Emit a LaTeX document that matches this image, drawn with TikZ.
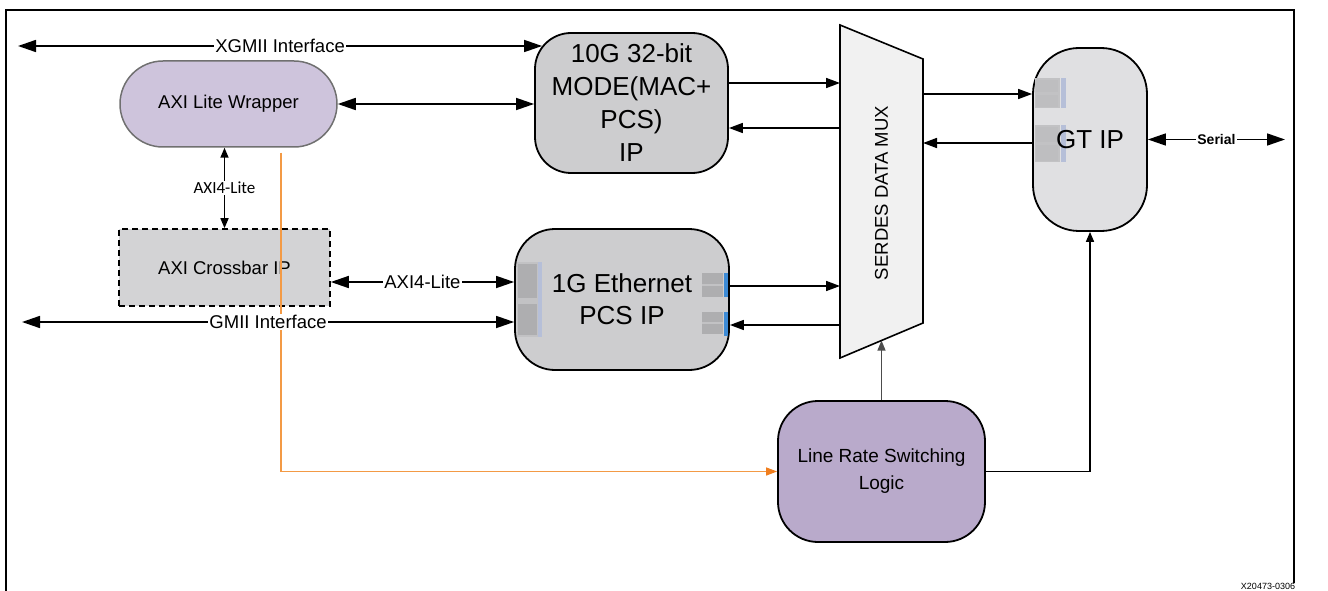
\documentclass[tikz,border=0pt]{standalone}
\usepackage{fontspec}
\setmainfont{Liberation Sans}
\newfontfamily\calfont{Carlito}
\usetikzlibrary{arrows.meta,shapes.misc,calc}

\definecolor{wrapfill}{HTML}{CEC4DC}
\definecolor{wrapedge}{HTML}{707070}
\definecolor{ipgray}{HTML}{CDCDCF}
\definecolor{gtfill}{HTML}{E0E0E2}
\definecolor{xbfill}{HTML}{D3D3D5}
\definecolor{muxfill}{HTML}{F1F1F1}
\definecolor{lrsfill}{HTML}{B9AACB}
\definecolor{ctlorange}{HTML}{F39A45}
\definecolor{ctltip}{HTML}{F07E1E}
\definecolor{padgray}{HTML}{AEAEB0}
\definecolor{padlight}{HTML}{C2C2C4}
\definecolor{padbar}{HTML}{B6BFD8}
\definecolor{padblue}{HTML}{3D8BD6}

\tikzset{
  ipbox/.style={draw=black, line width=1.8pt, fill=ipgray, align=center,
    inner sep=0pt, font=\fontsize{26}{33}\selectfont},
  link/.style={draw=black, line width=1.6pt},
  lab/.style={fill=white, inner sep=1pt, font=\fontsize{18.5}{20}\selectfont},
  tipdbl/.style={{Triangle[length=18pt,width=12pt]}-{Triangle[length=18pt,width=12pt]}},
  tipfwd/.style={-{Triangle[length=14pt,width=10pt]}},
  tipsm/.style={-{Triangle[length=10pt,width=8pt]}},
  tipsmdbl/.style={{Triangle[length=10pt,width=8pt]}-{Triangle[length=10pt,width=8pt]}},
}

\begin{document}
\begin{tikzpicture}[x=1pt,y=-1pt]
\useasboundingbox (0,0) rectangle (1328,591);

% outer frame (open at the bottom)
\draw[line width=1.6pt] (6,591) -- (6,10) -- (1294,10) -- (1294,583);
\node[anchor=north, inner sep=0pt, font=\fontsize{9}{10}\selectfont] (tag) at (1268,583.5) {X20473-0306};

% blocks
\node[rounded rectangle, draw=wrapedge, line width=1.5pt, fill=wrapfill,
      minimum width=217pt, minimum height=86pt, inner sep=0pt,
      font=\fontsize{18.5}{20}\selectfont] (wrap) at (228.5,104) {AXI Lite Wrapper};
\node[ipbox, rounded corners=36pt, minimum width=193pt, minimum height=140pt]
      (g10) at (631.5,103) {10G 32-bit\\MODE(MAC+\\PCS)\\IP};
\node[ipbox, rounded corners=40pt, minimum width=214pt, minimum height=141pt]
      (g1) at (622,299.5) {};
\node[ipbox, fill=gtfill, rounded corners=46pt, minimum width=114pt, minimum height=183pt]
      (gt) at (1090,139.5) {};
\node[draw=black, dashed, dash pattern=on 6pt off 4pt, line width=1.6pt, fill=xbfill,
      minimum width=211pt, minimum height=77pt, inner sep=0pt,
      font=\fontsize{18.5}{20}\selectfont] (xbar) at (224.5,267.5) {AXI Crossbar IP};
\node[draw=black, line width=1.8pt, fill=lrsfill, rounded corners=40pt,
      minimum width=207pt, minimum height=141pt, inner sep=0pt, align=center,
      font=\fontsize{19}{27}\selectfont] (lrs) at (881.5,471.5) {Line Rate Switching\\Logic};

% port icons on the 1G Ethernet block
\fill[padlight] (517,262) rectangle (538,337);
\fill[padgray] (518,264) rectangle (537,298);
\fill[padgray] (518,304) rectangle (537,335);
\fill[padbar] (538,262) rectangle (542,337);
\fill[padgray] (702,273) rectangle (723,297);
\fill[padlight] (702,284) rectangle (723,286);
\fill[padgray] (702,312) rectangle (723,334);
\fill[padlight] (702,322) rectangle (723,324);
\fill[padblue] (724,273) rectangle (728,297);
\fill[padblue] (724,312) rectangle (728,336);
\node[align=center, inner sep=0pt, font=\fontsize{26}{32}\selectfont] (g1txt) at (g1) {1G Ethernet\\PCS IP};

% port icons on the GT block
\fill[padlight] (1035,78) rectangle (1060,108);
\fill[padgray!80] (1036,80) rectangle (1058,92);
\fill[padgray!80] (1036,95) rectangle (1058,107);
\fill[padbar] (1061,78) rectangle (1066,108);
\fill[padlight] (1035,125) rectangle (1060,162);
\fill[padgray!80] (1036,127) rectangle (1058,142);
\fill[padgray!80] (1036,145) rectangle (1058,161);
\fill[padbar] (1061,125) rectangle (1066,162);
\node[inner sep=0pt, font=\fontsize{26}{32}\selectfont] (gttxt) at (gt) {GT IP};

% SERDES data multiplexer
\coordinate (mTL) at (840,25);
\coordinate (mTR) at (923,59);
\coordinate (mBR) at (923,323);
\coordinate (mBL) at (840,358);
\draw[line width=1.6pt, fill=muxfill] (mTL) -- (mTR) -- (mBR) -- (mBL) -- cycle;
\node[rotate=90, inner sep=0pt, font=\fontsize{18.5}{20}\selectfont] (mux) at (881.5,193) {SERDES DATA MUX};

% control path from the wrapper to the rate switching logic
\draw[draw=ctlorange, line width=1.3pt, -{Triangle[length=11pt,width=8pt,color=ctltip]}]
  ($(wrap.south)+(52.5,5)$) |- (lrs.west);

% interfaces
\coordinate (xgL) at (18,46);
\coordinate (gmL) at (22,322);
\coordinate (serR) at (1285,141);
\draw[link,tipdbl] (xgL) -- node[lab]{XGMII Interface} ($(xgL -| g10.west)+(8,0)$);
\draw[link,tipdbl] (wrap.east) -- (wrap.east -| g10.west);
\draw[link,tipsmdbl] (xbar.north |- wrap.south) -- node[lab, font=\calfont\fontsize{17}{19}\selectfont]{AXI4-Lite} (xbar.north);
\draw[link,tipdbl] ($(xbar.east)+(0,14.5)$) -- node[lab]{AXI4-Lite} ($(xbar.east -| g1.west)+(0,14.5)$);
\draw[link,tipdbl] (gmL) -- node[lab]{GMII Interface} (gmL -| g1.west);

% datapaths through the multiplexer
\draw[link,tipfwd] ($(g10.east)+(0,-20)$) -- ($(g10.east -| mTL)+(0,-20)$);
\draw[link,tipfwd] ($(g10.east -| mTL)+(0,25)$) -- ($(g10.east)+(0,25)$);
\draw[link,tipfwd] ($(g1.east)+(0,-13.5)$) -- ($(g1.east -| mBL)+(0,-13.5)$);
\draw[link,tipfwd] ($(g1.east -| mBL)+(0,25.5)$) -- ($(g1.east)+(0,25.5)$);
\draw[link,tipfwd] ($(gt.west -| mTR)+(0,-45.5)$) -- ($(gt.west)+(0,-45.5)$);
\draw[link,tipfwd] ($(gt.west)+(0,3.5)$) -- ($(gt.west -| mTR)+(0,3.5)$);
\draw[link,tipdbl] (gt.east) -- node[fill=white, inner sep=1pt, font=\bfseries\fontsize{14}{16}\selectfont]{Serial} (gt.east -| serR);

% rate switching control
\draw[draw=black!70, line width=1.1pt, tipsm] (lrs.north) -- ($(mBL)!0.5!(mBR)$);
\draw[link,tipsm] (lrs.east) -| (gt.south);
\end{tikzpicture}
\end{document}
